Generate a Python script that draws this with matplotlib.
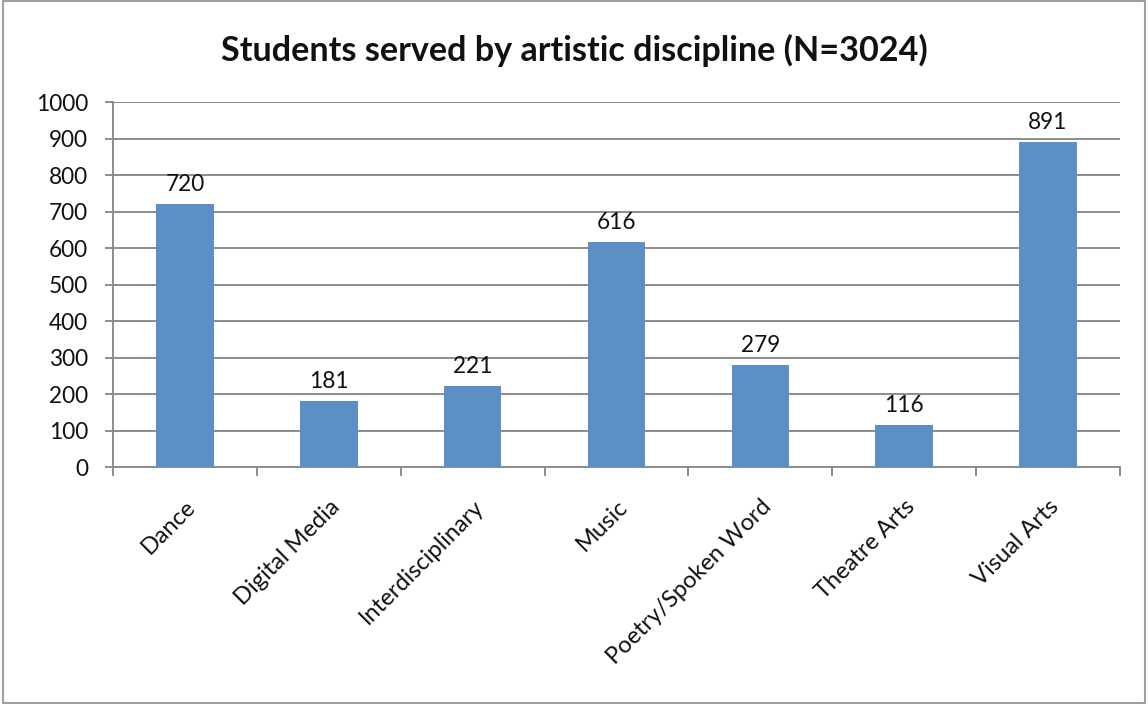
import matplotlib
matplotlib.use("Agg")
import matplotlib.pyplot as plt
from matplotlib.patches import Rectangle
import numpy as np

plt.rcParams['font.family'] = ['Lato', 'DejaVu Sans']

categories = ["Dance", "Digital Media", "Interdisciplinary", "Music",
              "Poetry/Spoken Word", "Theatre Arts", "Visual Arts"]
students = [720, 181, 221, 616, 279, 116, 891]
y_ticks = [0, 100, 200, 300, 400, 500, 600, 700, 800, 900, 1000]
title = "Students served by artistic discipline (N=3024)"

bar_color = "#5b8fc6"
grid_color = "#8c8c8c"
text_color = "#111111"
fs = 16.3

fig = plt.figure(figsize=(11.48, 7.04), dpi=100)
fig.patches.append(Rectangle((0.003, 0.002), 0.994, 0.996, transform=fig.transFigure,
                             fill=False, edgecolor="#a0a0a0", linewidth=1.5))

ax = fig.add_axes([0.0984, 0.3366, 0.8772, 0.5185])
x = np.arange(len(categories))
ax.bar(x, students, width=0.4, color=bar_color, zorder=3)

for xi, v in zip(x, students):
    ax.text(xi, v + 25, str(v), ha="center", va="bottom", fontsize=fs, color=text_color)

ax.set_xlim(-0.5, len(categories) - 0.5)
ax.set_ylim(0, 1000)
ax.set_yticks(y_ticks)
ax.set_yticklabels([str(t) for t in y_ticks], fontsize=fs, color=text_color)
ax.yaxis.grid(True, color=grid_color, linewidth=1.4, zorder=0)
ax.set_axisbelow(True)

# category boundaries carry the tick marks, centres carry the labels
ax.set_xticks(np.arange(-0.5, len(categories)), minor=False)
ax.set_xticklabels([])
ax.set_xticks(x, minor=True)
ax.set_xticklabels(categories, minor=True, rotation=45, ha="right",
                   rotation_mode="anchor", fontsize=17, color=text_color)
ax.tick_params(axis="x", which="minor", length=0, pad=21)
ax.tick_params(axis="x", which="major", length=6.5, color=grid_color, width=1.4)
ax.tick_params(axis="y", length=6, color=grid_color, width=1.4, pad=12)

for side in ["top", "right"]:
    ax.spines[side].set_visible(False)
for side in ["left", "bottom"]:
    ax.spines[side].set_color(grid_color)
    ax.spines[side].set_linewidth(1.4)

fig.text(0.5, 0.928, title, ha="center", va="center", fontsize=24.6,
         fontweight="bold", color=text_color)

fig.savefig("out.png", dpi=100)
